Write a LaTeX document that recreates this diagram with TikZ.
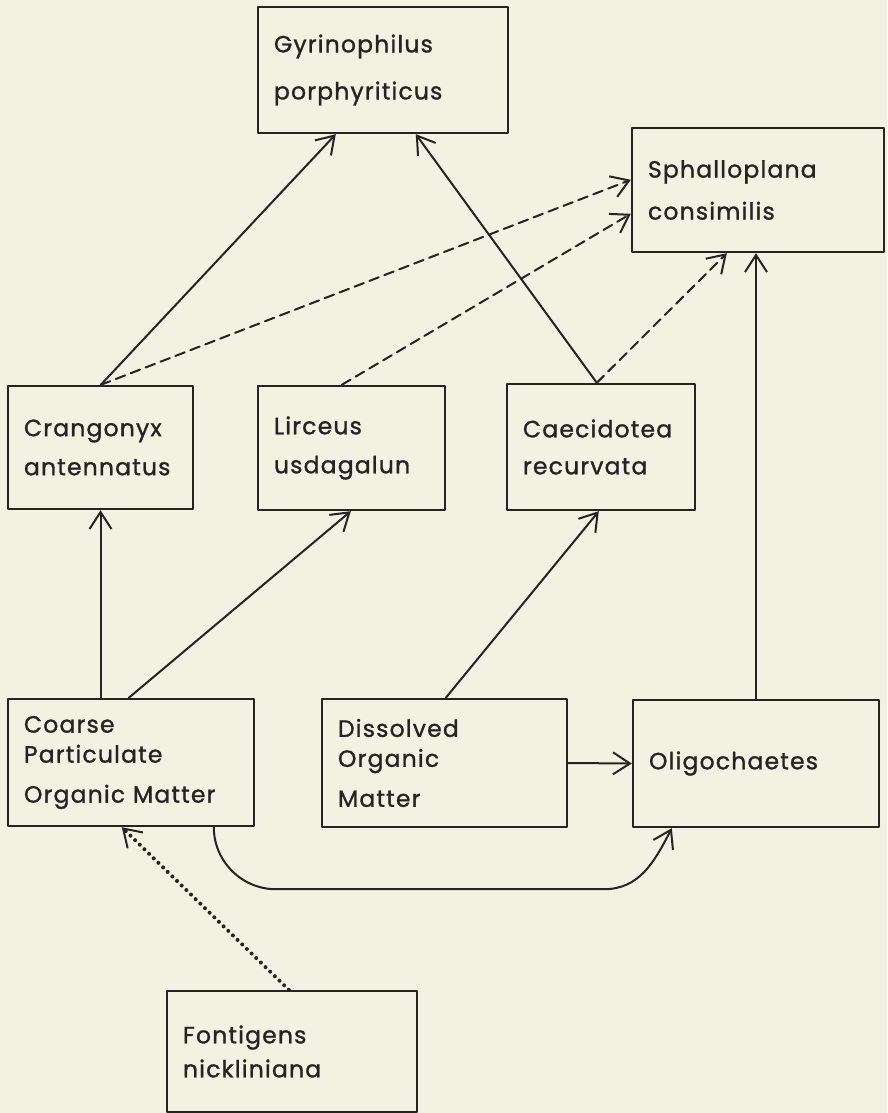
\documentclass[tikz,border=0pt]{standalone}
\usepackage{fontspec}
\newfontfamily\plotterfont{Poppins}[LetterSpace=5,FakeBold=1.2]
\usetikzlibrary{arrows.meta,calc}
\definecolor{paper}{RGB}{243,241,226}
\definecolor{ink}{RGB}{38,36,34}

\begin{document}
\begin{tikzpicture}[x=1pt,y=-1pt,line cap=round,line join=round,
  >={Straight Barb[length=17pt,width=22pt,line width=2pt]},
  taxon/.style={draw=ink,line width=2.4pt,rectangle,align=left,inner xsep=16pt,
    text=ink,font=\plotterfont\fontsize{23.5}{27}\selectfont},
  eats/.style={->,draw=ink,line width=2pt},
  maybe/.style={eats,dash pattern=on 10pt off 6pt},
  drift/.style={eats,line width=4pt,dash pattern=on 0pt off 6.5pt}]
  % --- page ---
  \fill[paper] (0,0) rectangle (887,1113);
  \useasboundingbox (0,0) rectangle (887,1113);

  % --- predators ---
  \node[taxon,text width=218pt,minimum height=126pt] (gyr) at (383,70)
    {Gyrinophilus\\[20pt]porphyriticus};
  \node[taxon,text width=220pt,minimum height=124pt] (sph) at (758,190)
    {Sphalloplana\\[15pt]consimilis};

  % --- isopods and amphipods ---
  \node[taxon,text width=153pt,minimum height=123pt] (cra) at (100.5,447.5)
    {Crangonyx\\[12pt]antennatus};
  \node[taxon,text width=155pt,minimum height=124pt] (lir) at (351.5,448)
    {Lirceus\\[12pt]usdagalun};
  \node[taxon,text width=156pt,minimum height=126pt] (cae) at (601,447)
    {Caecidotea\\[10pt]recurvata};

  % --- food base ---
  \node[taxon,text width=214pt,minimum height=127pt] (cpom) at (131,762.5)
    {Coarse\\[3pt]Particulate\\[13pt]Organic Matter};
  \node[taxon,text width=213pt,minimum height=128pt] (dom) at (444.5,763)
    {Dissolved\\[3pt]Organic\\[13pt]Matter};
  \node[taxon,text width=214pt,minimum height=127pt] (oli) at (756,763.5)
    {Oligochaetes};
  \node[taxon,text width=218pt,minimum height=121pt] (fon) at (292,1051.5)
    {Fontigens\\[7pt]nickliniana};

  % --- attachment points ---
  \coordinate (craTop) at ($(cra.north west)+(94,0)$);
  \coordinate (caeTop) at ($(cae.north west)+(91,0)$);

  % --- solid links ---
  \draw[eats] (cra.south |- cpom.north) -- (cra.south);
  \draw[eats] ($(cpom.north west)+(122,0)$) -- ($(lir.south west)+(94,0)$);
  \draw[eats] ($(dom.north west)+(125,0)$) -- ($(cae.south west)+(93,0)$);
  \draw[eats] (dom.east) -- (oli.west);
  \draw[eats] (oli.north) -- (oli.north |- sph.south);
  \draw[eats] (craTop) -- ($(gyr.south west)+(79,0)$);
  \draw[eats] (caeTop) -- ($(gyr.south west)+(159,0)$);
  \draw[eats] ($(cpom.south west)+(207,0)$) .. controls +(0,34) and +(-34,0) .. ++(62,62)
    -- ++(328,0) .. controls +(35,0) and +(-18,35) .. ($(oli.south west)+(40,0)$);

  % --- dashed links ---
  \draw[maybe] (craTop) -- ($(sph.north west)+(0,53)$);
  \draw[maybe] ($(lir.north west)+(85,0)$) -- ($(sph.north west)+(0,87)$);
  \draw[maybe] (caeTop) -- ($(sph.south west)+(96,0)$);

  % --- dotted link ---
  \draw[drift] ($(fon.north west)+(123,0)$) -- ($(cpom.south west)+(115,0)$);
\end{tikzpicture}
\end{document}
